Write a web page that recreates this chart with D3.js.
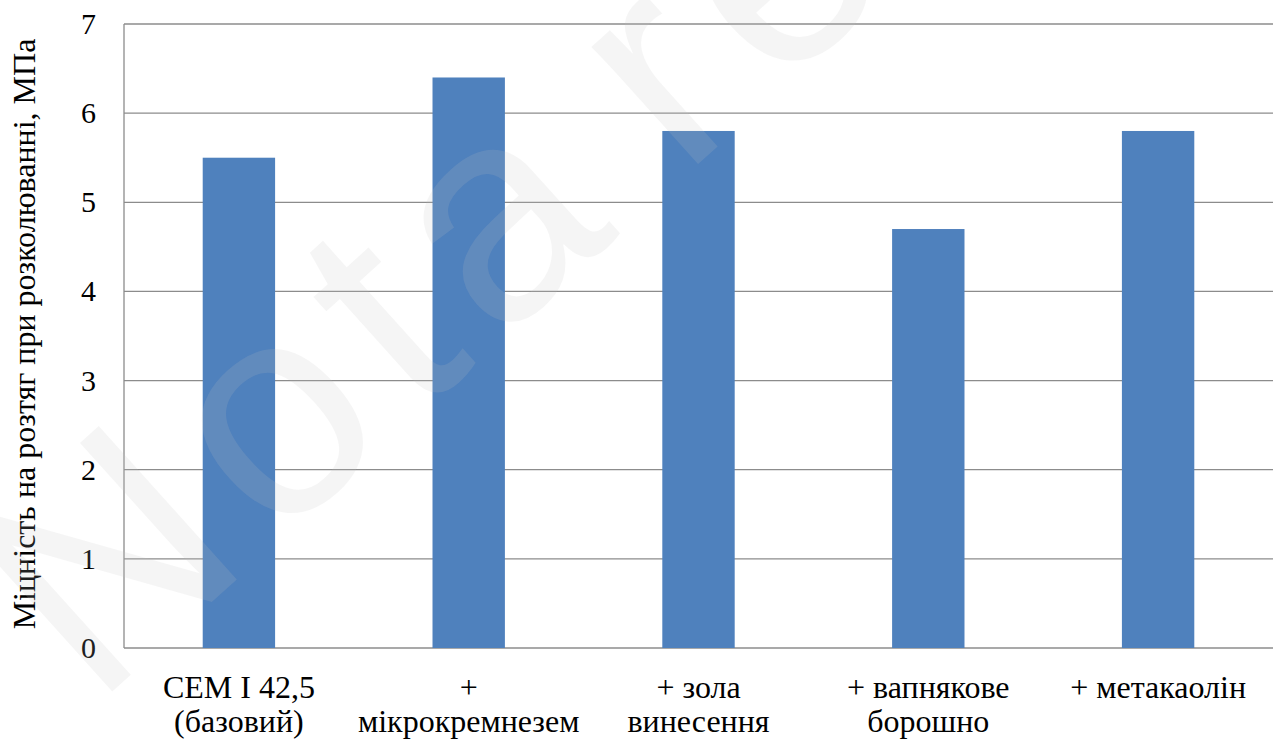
<!DOCTYPE html>
<html>
<head>
<meta charset="utf-8">
<script src="https://cdn.jsdelivr.net/npm/d3@7"></script>
<style>
  html, body { margin: 0; padding: 0; background: #ffffff; }
</style>
</head>
<body>
<svg id="chart" width="1277" height="740"></svg>
<script>
// Split tensile strength of concrete mixes
const categories = ["CEM I 42,5|(базовий)", "+|мікрокремнезем", "+ зола|винесення", "+ вапнякове|борошно", "+ метакаолін"];
const strength = [5.5, 6.4, 5.8, 4.7, 5.8];
const yTicks = [0, 1, 2, 3, 4, 5, 6, 7];
const yTitle = "Міцність на розтяг при розколюванні, МПа";
const watermark = "Nota re";

const SERIF = `"Liberation Serif", "Times New Roman", serif`;
const SANS = `"Liberation Sans", Arial, sans-serif`;

const svg = d3.select("#chart");
const margin = { left: 124, right: 4, top: 24, bottom: 92 };
const W = 1277, H = 740;

const x = d3.scaleBand()
  .domain(categories)
  .range([margin.left, W - margin.right])
  .paddingInner(0.685)
  .paddingOuter(0.3425);

const y = d3.scaleLinear()
  .domain([0, 7])
  .range([H - margin.bottom, margin.top]);

// horizontal gridlines
svg.append("g")
  .selectAll("line")
  .data(yTicks)
  .join("line")
  .attr("x1", margin.left)
  .attr("x2", W - margin.right)
  .attr("y1", d => y(d))
  .attr("y2", d => y(d))
  .attr("stroke", "#8c8c8c")
  .attr("stroke-width", 1.3);

// left axis line
svg.append("line")
  .attr("x1", margin.left).attr("x2", margin.left)
  .attr("y1", y(7)).attr("y2", y(0))
  .attr("stroke", "#8c8c8c")
  .attr("stroke-width", 1.3);

// bars
svg.append("g")
  .selectAll("rect")
  .data(categories.map((c, i) => ({ c, v: strength[i] })))
  .join("rect")
  .attr("x", d => x(d.c))
  .attr("width", x.bandwidth())
  .attr("y", d => y(d.v))
  .attr("height", d => y(0) - y(d.v))
  .attr("fill", "#4f81bd");

// y tick labels
yTicks.forEach(d => {
  svg.append("text")
    .style("font-family", SERIF)
    .attr("font-size", 30)
    .attr("x", 96)
    .attr("y", y(d) + 10)
    .attr("text-anchor", "end")
    .attr("fill", "#000")
    .text(String(d));
});

// category labels (two lines)
categories.forEach(c => {
  c.split("|").forEach((ln, i) => {
    svg.append("text")
      .style("font-family", SERIF)
      .attr("font-size", 32)
      .attr("x", x(c) + x.bandwidth() / 2)
      .attr("y", 698 + i * 34)
      .attr("text-anchor", "middle")
      .attr("fill", "#000")
      .text(ln);
  });
});

// y axis title
svg.append("text")
  .style("font-family", SERIF)
  .attr("font-size", 32)
  .attr("transform", `translate(35, 334) rotate(-90)`)
  .attr("text-anchor", "middle")
  .attr("fill", "#000")
  .text(yTitle);

// faint diagonal watermark on top
svg.append("text")
  .style("font-family", SANS)
  .attr("font-size", 300)
  .attr("transform", "translate(94, 708) rotate(-42)")
  .attr("letter-spacing", 25)
  .attr("word-spacing", -50)
  .attr("fill", "rgb(190,190,190)")
  .attr("fill-opacity", 0.16)
  .text(watermark);
</script>
</body>
</html>
